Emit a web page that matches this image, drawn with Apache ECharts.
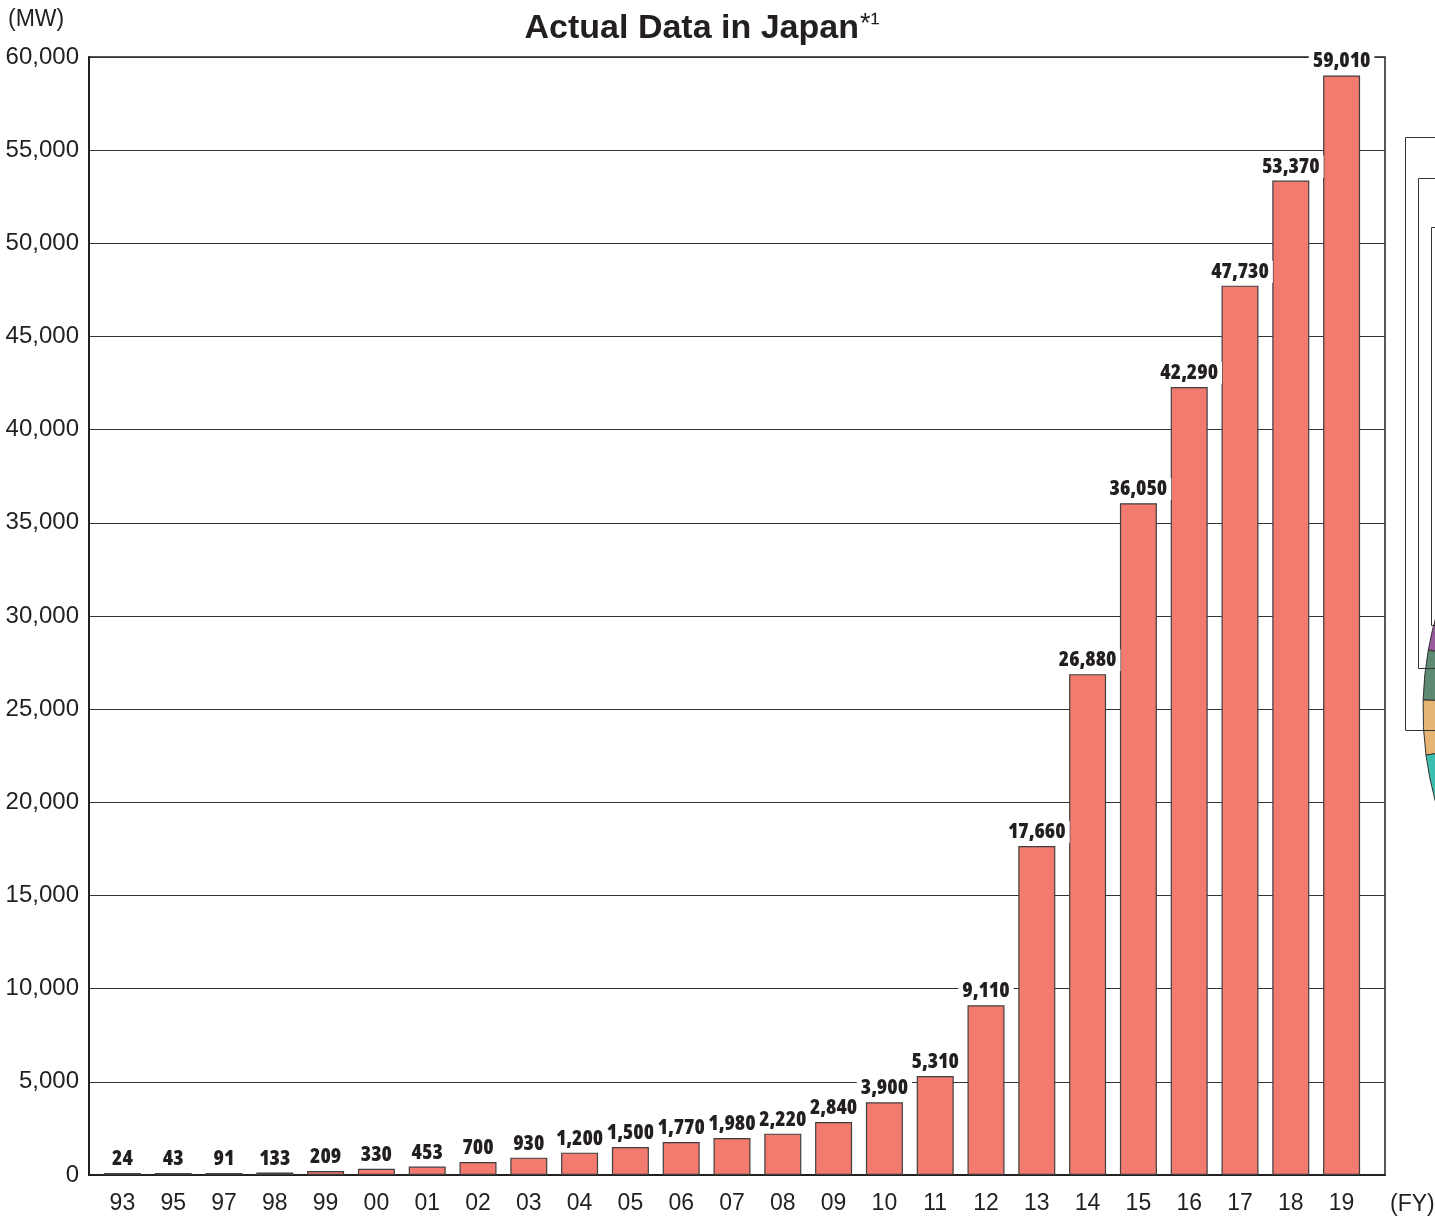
<!DOCTYPE html>
<html>
<head>
<meta charset="utf-8">
<title>Actual Data in Japan</title>
<script src="https://cdn.jsdelivr.net/npm/echarts@6/dist/echarts.min.js"></script>
<style>
  html, body { margin: 0; padding: 0; background: #ffffff; }
  #chart { width: 1435px; height: 1218px; }
</style>
</head>
<body>
<div id="chart"></div>
<script>
// Fiscal years (two-digit) and installed capacity in MW
const years = ['93', '95', '97', '98', '99', '00', '01', '02', '03', '04', '05', '06', '07',
               '08', '09', '10', '11', '12', '13', '14', '15', '16', '17', '18', '19'];
const capacityMW = [24, 43, 91, 133, 209, 330, 453, 700, 930, 1200, 1500, 1770, 1980,
                    2220, 2840, 3900, 5310, 9110, 17660, 26880, 36050, 42290, 47730, 53370, 59010];
// Value axis range and step
const yMin = 0;
const yMax = 60000;
const yStep = 5000;

const ink = '#231f20';
const narrowFont = '"Open Sans", "DejaVu Sans", sans-serif';
const bodyFont = '"Liberation Sans", Arial, Helvetica, sans-serif';

const chart = echarts.init(document.getElementById('chart'), null, { renderer: 'canvas' });

// Neighbouring panel edge on the right (frames and a pie fragment)
const pieCx = 1766, pieCy = 710, pieR = 343;
const pieSlices = [
  { a0: Math.PI + 0.30, a1: Math.PI + 0.1758, color: '#9a5a9e' },
  { a0: Math.PI + 0.1758, a1: Math.PI + 0.0292, color: '#5e8a72' },
  { a0: Math.PI + 0.0292, a1: Math.PI - 0.1316, color: '#e6b574' },
  { a0: Math.PI - 0.1316, a1: Math.PI - 0.40, color: '#3cbfb0' }
];

const sideGraphics = pieSlices.map(s => ({
  type: 'sector',
  z: 1,
  shape: { cx: pieCx, cy: pieCy, r: pieR, startAngle: Math.min(s.a0, s.a1), endAngle: Math.max(s.a0, s.a1) },
  style: { fill: s.color, stroke: '#333333', lineWidth: 1 }
})).concat([
  { type: 'rect', z: 2, shape: { x: 1405.5, y: 137.5, width: 100, height: 593 }, style: { fill: 'none', stroke: '#333333', lineWidth: 1 } },
  { type: 'rect', z: 2, shape: { x: 1418.5, y: 178.5, width: 100, height: 490 }, style: { fill: 'none', stroke: '#333333', lineWidth: 1 } },
  { type: 'rect', z: 2, shape: { x: 1431.5, y: 227.5, width: 100, height: 398 }, style: { fill: 'none', stroke: '#333333', lineWidth: 1 } }
]);

const option = {
  backgroundColor: '#ffffff',
  animation: false,
  title: {
    text: '{a|Actual Data in Japan}{b|*¹}',
    left: 697,
    textAlign: 'center',
    top: 6,
    textStyle: {
      rich: {
        a: { fontFamily: bodyFont, fontWeight: 'bold', fontSize: 34, color: ink },
        b: { fontFamily: bodyFont, fontWeight: 'normal', fontSize: 27, color: ink, padding: [0, 0, 8, 1] }
      }
    }
  },
  grid: [
    // frame, gridlines and value scale
    { left: 89, right: 50, top: 57, bottom: 43, show: true, borderColor: ink, borderWidth: 1.5, backgroundColor: 'transparent' },
    // bar band (categories inset from the frame)
    { left: 97, right: 68, top: 57, bottom: 43 }
  ],
  xAxis: [
    {
      gridIndex: 0,
      type: 'category',
      data: years,
      axisLine: { show: true, lineStyle: { color: ink, width: 2 } },
      axisTick: { show: false },
      axisLabel: { show: false },
      splitLine: { show: false }
    },
    {
      gridIndex: 1,
      type: 'category',
      data: years,
      axisLine: { show: false },
      axisTick: { show: false },
      axisLabel: { color: ink, fontFamily: bodyFont, fontSize: 23, margin: 17 },
      splitLine: { show: false }
    }
  ],
  yAxis: [
    {
      gridIndex: 0,
      type: 'value',
      min: yMin,
      max: yMax,
      interval: yStep,
      axisLine: { show: true, lineStyle: { color: ink, width: 2 } },
      axisTick: { show: false },
      axisLabel: {
        color: ink,
        fontFamily: bodyFont,
        fontSize: 24,
        margin: 10,
        formatter: v => v.toLocaleString('en-US')
      },
      splitLine: { show: true, lineStyle: { color: '#333333', width: 1 } }
    },
    {
      gridIndex: 1,
      type: 'value',
      min: yMin,
      max: yMax,
      interval: yStep,
      show: false,
      splitLine: { show: false }
    }
  ],
  series: [{
    type: 'bar',
    xAxisIndex: 1,
    yAxisIndex: 1,
    data: capacityMW,
    barWidth: 37,
    barMinHeight: 2,
    itemStyle: { color: '#f27a6e', borderColor: '#3f3f3f', borderWidth: 1.2 },
    label: {
      show: true,
      position: 'top',
      distance: 3,
      color: ink,
      fontFamily: narrowFont,
      fontWeight: '800 condensed',
      fontSize: 21,
      lineHeight: 22,
      backgroundColor: '#ffffff',
      padding: [0, 4, 0, 4],
      formatter: p => p.value.toLocaleString('en-US')
    }
  }],
  graphic: [
    { type: 'text', left: 8, top: 8, style: { text: '(MW)', font: '23px ' + bodyFont, fill: ink } },
    { type: 'text', left: 1390, top: 1193, style: { text: '(FY)', font: '23px ' + bodyFont, fill: ink } }
  ].concat(sideGraphics)
};

chart.setOption(option);
</script>
</body>
</html>
